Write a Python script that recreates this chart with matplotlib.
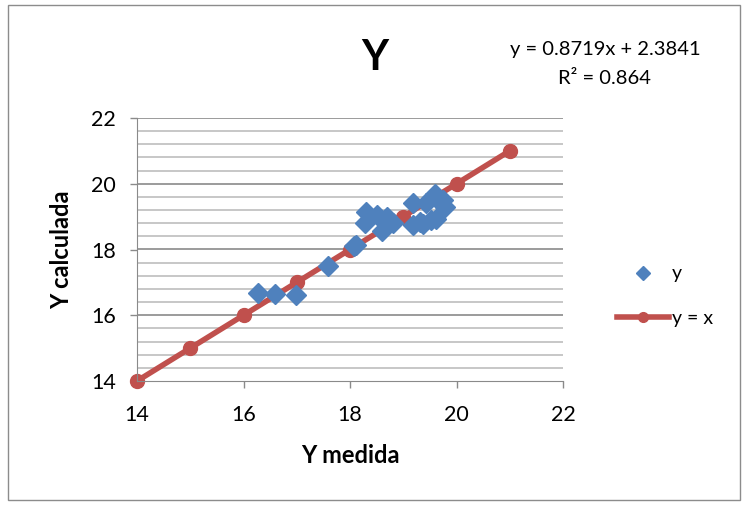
import matplotlib.pyplot as plt
import numpy as np
from matplotlib.patches import Rectangle

# datos medidos vs calculados
y_medida = [16.28, 16.59, 16.99, 17.59, 18.08, 18.12, 18.30, 18.28, 18.50, 18.60,
            18.69, 18.80, 19.19, 19.19, 19.38, 19.42, 19.60, 19.62, 19.70, 19.75,
            19.31, 19.53, 19.78]
y_calculada = [16.67, 16.64, 16.62, 17.50, 18.10, 18.15, 19.15, 18.80, 19.05, 18.55,
               18.98, 18.80, 19.42, 18.75, 18.78, 19.42, 19.70, 18.92, 19.40, 19.52,
               18.84, 18.90, 19.30]
linea_x = [14, 15, 16, 17, 18, 19, 20, 21]
linea_y = [14, 15, 16, 17, 18, 19, 20, 21]
ticks = [14, 16, 18, 20, 22]

plt.rcParams['font.family'] = ['Lato', 'DejaVu Sans']

fig = plt.figure(figsize=(7.47, 5.05), dpi=100)
fig.patches.append(Rectangle((8 / 747, 5 / 505), 732 / 747, 495 / 505, transform=fig.transFigure,
                             fill=False, edgecolor='#8c8c8c', linewidth=1))

ax = fig.add_axes([137 / 747, 1 - 381 / 505, 426 / 747, 263 / 505])

# rejilla horizontal
for v in np.arange(14.4, 22.01, 0.4):
    major = abs(v - round(v)) < 1e-6 and round(v) % 2 == 0
    ax.axhline(v, color='#8a8a8a' if major else '#bdbdbd', lw=1.2, zorder=0)

ax.plot(linea_x, linea_y, color='#C0504D', lw=4, marker='o', markersize=10,
        label='y = x', zorder=2, clip_on=False)
ax.plot(y_medida, y_calculada, linestyle='none', marker='D', markersize=10,
        color='#4F81BD', label='y', zorder=3)

ax.set_xlim(14, 22)
ax.set_ylim(14, 22)
ax.set_xticks(ticks)
ax.set_yticks(ticks)
ax.tick_params(labelsize=15.5, length=5, color='#8a8a8a', width=1)
ax.tick_params(axis='x', pad=12)
ax.tick_params(axis='y', pad=10)
for s in ['top', 'right']:
    ax.spines[s].set_visible(False)
for s in ['left', 'bottom']:
    ax.spines[s].set_color('#8a8a8a')

ax.set_xlabel('Y medida', fontsize=17, fontweight='bold', labelpad=14)
ax.set_ylabel('Y calculada', fontsize=17, fontweight='bold', labelpad=13)

fig.text(375 / 747, 1 - 58 / 505, 'Y', fontsize=30, fontweight='bold', ha='center', va='center')
fig.text(605 / 747, 1 - 49 / 505, 'y = 0.8719x + 2.3841', fontsize=14.5, ha='center', va='center')
fig.text(605 / 747, 1 - 79 / 505, 'R² = 0.864', fontsize=14.5, ha='center', va='center')

h, l = ax.get_legend_handles_labels()
fig.legend(h[::-1], l[::-1], loc='center left', bbox_to_anchor=(599 / 747, 1 - 296 / 505),
           frameon=False, fontsize=14, labelspacing=1.4, handlelength=2.7, handletextpad=0.15,
           markerscale=0.7)

plt.savefig('out.png', dpi=100)
plt.close()
